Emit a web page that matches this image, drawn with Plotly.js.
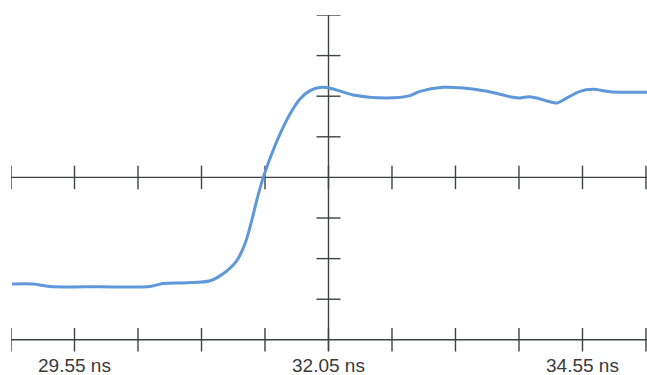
<!DOCTYPE html>
<html>
<head>
<meta charset="utf-8">
<script src="https://cdn.plot.ly/plotly-3.0.1.min.js"></script>
<style>html,body{margin:0;padding:0;background:#fff}#chart{width:647px;height:375px}</style>
</head>
<body>
<div id="chart"></div>
<script>
// Waveform samples (time in ns, amplitude in vertical divisions)
var timeNs = [28.935, 29.142, 29.309, 29.801, 30.293, 30.421, 30.657, 30.884, 31.012, 31.146, 31.228, 31.294, 31.343, 31.408, 31.491, 31.573, 31.671, 31.769, 31.868, 31.983, 32.094, 32.291, 32.626, 32.852, 32.951, 33.177, 33.374, 33.610, 33.866, 33.935, 34.033, 34.132, 34.299, 34.397, 34.525, 34.653, 34.820, 35.185];
var amplitudeDiv = [-2.627, -2.627, -2.686, -2.694, -2.686, -2.612, -2.595, -2.546, -2.373, -2.053, -1.634, -1.067, -0.574, 0.0, 0.577, 1.070, 1.563, 1.932, 2.137, 2.218, 2.179, 2.031, 1.957, 2.014, 2.120, 2.218, 2.203, 2.120, 1.972, 1.957, 1.989, 1.932, 1.834, 1.957, 2.120, 2.169, 2.112, 2.095];

// Graticule tick positions
var xGridTicks = [28.925, 29.55, 30.175, 30.8, 31.425, 32.05, 32.675, 33.3, 33.925, 34.55, 35.175];
var yGridTicks = [4, 3, 2, 1, -1, -2, -3];
var labelValues = [29.55, 32.05, 34.55];
var labelText = ["29.55 ns", "32.05 ns", "34.55 ns"];

var xMin = 28.925, xMax = 35.185;
var centerX = 32.05;
var gridColor = "#3d423f";
var gw = 1.4;
var tickHalfY = 0.29;   // divisions
var tickHalfX = 0.118;  // ns

var shapes = [];
function seg(x0, y0, x1, y1) {
  shapes.push({type: "line", xref: "x", yref: "y", x0: x0, y0: y0, x1: x1, y1: y1,
    line: {color: gridColor, width: gw}, layer: "below"});
}
// horizontal lines
seg(xMin, 0, xMax, 0);
seg(xMin, -4, xMax, -4);
// vertical line
seg(centerX, 4, centerX, -4.27);
// ticks on horizontal lines
xGridTicks.forEach(function (t) {
  seg(t, -tickHalfY, t, tickHalfY);
  seg(t, -4 - tickHalfY, t, -4 + tickHalfY);
});
// ticks on vertical line
yGridTicks.forEach(function (v) {
  seg(centerX - tickHalfX, v, centerX + tickHalfX, v);
});

var trace = {
  x: timeNs, y: amplitudeDiv, type: "scatter", mode: "lines",
  line: {color: "#5e97da", width: 3, shape: "spline", smoothing: 0.9},
  hoverinfo: "skip"
};

var layout = {
  width: 647, height: 375,
  margin: {l: 11, r: 0, t: 15, b: 23, pad: 0},
  paper_bgcolor: "#ffffff", plot_bgcolor: "#ffffff",
  showlegend: false,
  font: {family: "Liberation Sans, Arial, sans-serif", size: 19, color: "#3a3a3a"},
  xaxis: {range: [xMin, xMax], showgrid: false, zeroline: false, showline: false,
    ticks: "", tickmode: "array", tickvals: labelValues, ticktext: labelText,
    ticklabelstandoff: 0, fixedrange: true},
  yaxis: {range: [-4.3, 4], showgrid: false, zeroline: false, showline: false,
    showticklabels: false, ticks: "", fixedrange: true},
  shapes: shapes
};

Plotly.newPlot("chart", [trace], layout, {displayModeBar: false, staticPlot: true});
</script>
</body>
</html>
